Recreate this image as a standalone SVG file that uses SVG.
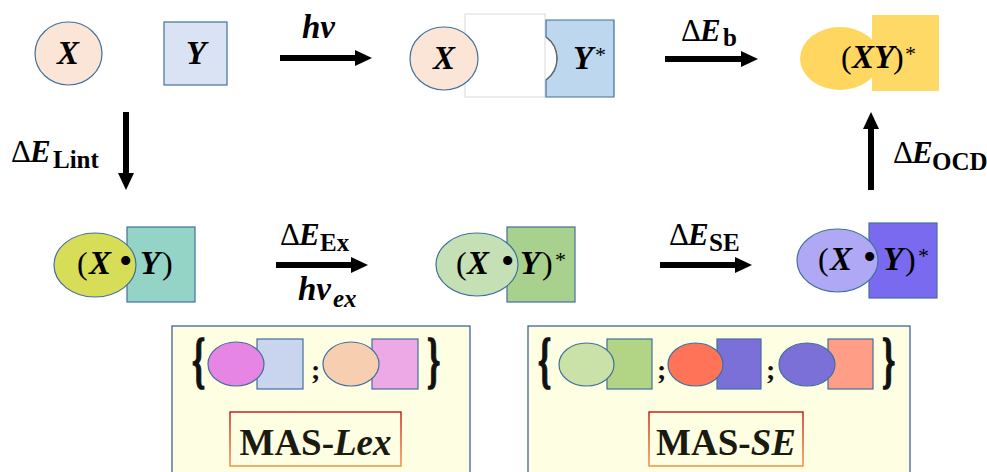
<svg xmlns="http://www.w3.org/2000/svg" width="987" height="472" viewBox="0 0 987 472">
<style>
.m{font-family:"Liberation Serif",serif;font-weight:bold;font-style:italic;font-size:33px;fill:#000}
.r{font-family:"Liberation Serif",serif;font-weight:normal;font-style:normal;font-size:32px;fill:#000}
.d{font-family:"Liberation Serif",serif;font-weight:normal;font-style:normal;font-size:31px;fill:#000}
.e{font-family:"Liberation Serif",serif;font-weight:bold;font-style:italic;font-size:31px;fill:#000}
.sub{font-family:"Liberation Serif",serif;font-weight:bold;font-style:normal;font-size:25px}
.subi{font-family:"Liberation Serif",serif;font-weight:bold;font-style:italic;font-size:25px}
.ast{font-family:"Liberation Serif",serif;font-weight:normal;font-style:normal;font-size:22px}
.dot{font-family:"Liberation Serif",serif;font-size:38px}
.ol{stroke:#41719C;stroke-width:1.2}
.br{font-family:"Liberation Serif",serif;font-weight:bold;font-size:42px;fill:#111;stroke:#111;stroke-width:1}
.semi{font-family:"Liberation Serif",serif;font-weight:bold;font-size:28px;fill:#111}
.mas{font-family:"Liberation Serif",serif;font-weight:bold;font-size:37px;fill:#1a1a10}
</style>
<defs>
<marker id="ah" markerUnits="userSpaceOnUse" markerWidth="17" markerHeight="16" refX="0" refY="8" orient="auto" overflow="visible">
<path d="M0,0 L17,8 L0,16 Z" fill="#000"/>
</marker>
<linearGradient id="rg" x1="0" y1="0" x2="0" y2="1">
<stop offset="0" stop-color="#C00000"/>
<stop offset="1" stop-color="#F08030"/>
</linearGradient>
</defs>
<rect width="987" height="472" fill="#fff"/>

<g id="connectors" stroke="#000" stroke-width="6" marker-end="url(#ah)">
<line x1="280" y1="58" x2="355" y2="58"/>
<line x1="665" y1="59" x2="741" y2="59"/>
<line x1="276" y1="265" x2="351" y2="265"/>
<line x1="660" y1="265" x2="735" y2="265"/>
<line x1="126" y1="112" x2="126" y2="173"/>
<line x1="871" y1="190" x2="871" y2="129"/>
</g>

<g id="labels">
<text class="m" x="302" y="38">hν</text>
<text x="681" y="41"><tspan class="d">Δ</tspan><tspan class="e" x="700">E</tspan><tspan class="sub" x="723" y="46">b</tspan></text>
<text x="11" y="162"><tspan class="d">Δ</tspan><tspan class="e" x="30">E</tspan><tspan class="sub" x="53" y="168">Lint</tspan></text>
<text x="893" y="163"><tspan class="d">Δ</tspan><tspan class="e" x="912">E</tspan><tspan class="sub" x="932" y="170" font-size="23">OCD</tspan></text>
<text x="280" y="245"><tspan class="d">Δ</tspan><tspan class="e" x="299">E</tspan><tspan class="sub" x="320" y="251">Ex</tspan></text>
<text x="298" y="300"><tspan class="m">hν</tspan><tspan class="subi" x="333" y="307">ex</tspan></text>
<text x="669" y="245"><tspan class="d">Δ</tspan><tspan class="e" x="688">E</tspan><tspan class="sub" x="709" y="251">SE</tspan></text>
</g>

<g id="node-X">
<ellipse cx="68.5" cy="53.5" rx="33.5" ry="31.5" fill="#FBE5D6" class="ol"/>
<text class="m" x="68" y="64" text-anchor="middle">X</text>
</g>
<g id="node-Y">
<rect x="164" y="22" width="63" height="63" fill="#DAE3F3" class="ol"/>
<text class="m" x="196" y="64" text-anchor="middle">Y</text>
</g>

<g id="node-X-Ystar">
<rect x="465" y="14" width="80" height="83" fill="#fff" stroke="#D9D9D9" stroke-width="1"/>
<ellipse cx="444" cy="58.5" rx="34" ry="31.5" fill="#FBE5D6" class="ol"/>
<text class="m" x="444" y="69" text-anchor="middle">X</text>
<path d="M546,20 H614 V97 H546 V80 A26.5,26.5 0 0 0 546,37 Z" fill="#BDD7EE" class="ol"/>
<path d="M546,80 A26.5,26.5 0 0 0 546,37" fill="none" stroke="#6B6B6B" stroke-width="1.3"/>
<text class="m" x="573" y="69">Y</text>
<text class="ast" x="595" y="62">*</text>
</g>

<g id="node-XYstar">
<ellipse cx="840" cy="58.5" rx="40" ry="31.5" fill="#FFD65F"/>
<rect x="872" y="15" width="67" height="76" fill="#FFD966"/>
<text y="68"><tspan class="r" x="841">(</tspan><tspan class="m" x="852">XY</tspan><tspan class="r" x="893">)</tspan><tspan class="ast" x="905" y="61">*</tspan></text>
</g>

<g id="node-XdotY">
<rect x="127" y="227" width="68" height="75" fill="#94D4C6" class="ol"/>
<ellipse cx="95" cy="265" rx="41" ry="32" fill="#D7DD56" class="ol"/>
<text y="274"><tspan class="r" x="77">(</tspan><tspan class="m" x="89">X</tspan><tspan class="dot" x="119">•</tspan><tspan class="m" x="140">Y</tspan><tspan class="r" x="162">)</tspan></text>
</g>

<g id="node-XdotY-ex">
<rect x="507" y="227" width="68" height="75" fill="#A9D18E" class="ol"/>
<ellipse cx="477" cy="264.5" rx="41" ry="31.5" fill="#C5E0B4" class="ol"/>
<text y="274"><tspan class="r" x="456">(</tspan><tspan class="m" x="467">X</tspan><tspan class="dot" x="501">•</tspan><tspan class="m" x="520">Y</tspan><tspan class="r" x="542">)</tspan><tspan class="ast" x="555" y="267">*</tspan></text>
</g>

<g id="node-XdotY-se">
<rect x="869" y="223" width="68" height="75" fill="#7A6AF0" class="ol"/>
<ellipse cx="837.5" cy="260.5" rx="40.5" ry="31.5" fill="#AFA8F5" class="ol"/>
<text y="270"><tspan class="r" x="818">(</tspan><tspan class="m" x="830">X</tspan><tspan class="dot" x="863">•</tspan><tspan class="m" x="883">Y</tspan><tspan class="r" x="905">)</tspan><tspan class="ast" x="918" y="263">*</tspan></text>
</g>

<g id="node-MAS-Lex">
<rect x="172" y="326" width="298" height="160" fill="#FEFEE2" stroke="#2F5597" stroke-width="1.2"/>
<text class="br" transform="translate(192,381) scale(0.8,1.45)">{</text>
<rect x="257" y="339" width="46" height="50" fill="#C9D5EE" class="ol"/>
<ellipse cx="236" cy="364" rx="28" ry="22" fill="#E685E3" class="ol"/>
<text class="semi" x="311" y="379">;</text>
<rect x="372" y="339" width="46" height="50" fill="#EDA9E5" class="ol"/>
<ellipse cx="351" cy="364" rx="28" ry="22" fill="#F8CEB1" class="ol"/>
<text class="br" transform="translate(427,381) scale(0.8,1.45)">}</text>
<rect x="230" y="412" width="171" height="54" fill="#FEFEE2" stroke="url(#rg)" stroke-width="1.3"/>
<text class="mas" x="315.5" y="455" text-anchor="middle">MAS-<tspan font-style="italic">Lex</tspan></text>
</g>

<g id="node-MAS-SE">
<rect x="528" y="326" width="382" height="160" fill="#FEFEE2" stroke="#2F5597" stroke-width="1.2"/>
<text class="br" transform="translate(538,381) scale(0.8,1.45)">{</text>
<rect x="607" y="339" width="45" height="50" fill="#B1D585" class="ol"/>
<ellipse cx="586.5" cy="364.5" rx="27.5" ry="21.5" fill="#CAE2A8" class="ol"/>
<text class="semi" x="657" y="379">;</text>
<rect x="717" y="339" width="44" height="50" fill="#7B6FD8" class="ol"/>
<ellipse cx="695.5" cy="364.5" rx="27.5" ry="21.5" fill="#FF7459" class="ol"/>
<text class="semi" x="766" y="379">;</text>
<rect x="828" y="339" width="45" height="50" fill="#FF9D86" class="ol"/>
<ellipse cx="807" cy="364.5" rx="28" ry="21.5" fill="#7B6FD8" class="ol"/>
<text class="br" transform="translate(882,381) scale(0.8,1.45)">}</text>
<rect x="649" y="412" width="154" height="54" fill="#FEFEE2" stroke="url(#rg)" stroke-width="1.3"/>
<text class="mas" x="726" y="455" text-anchor="middle">MAS-<tspan font-style="italic">SE</tspan></text>
</g>
</svg>
